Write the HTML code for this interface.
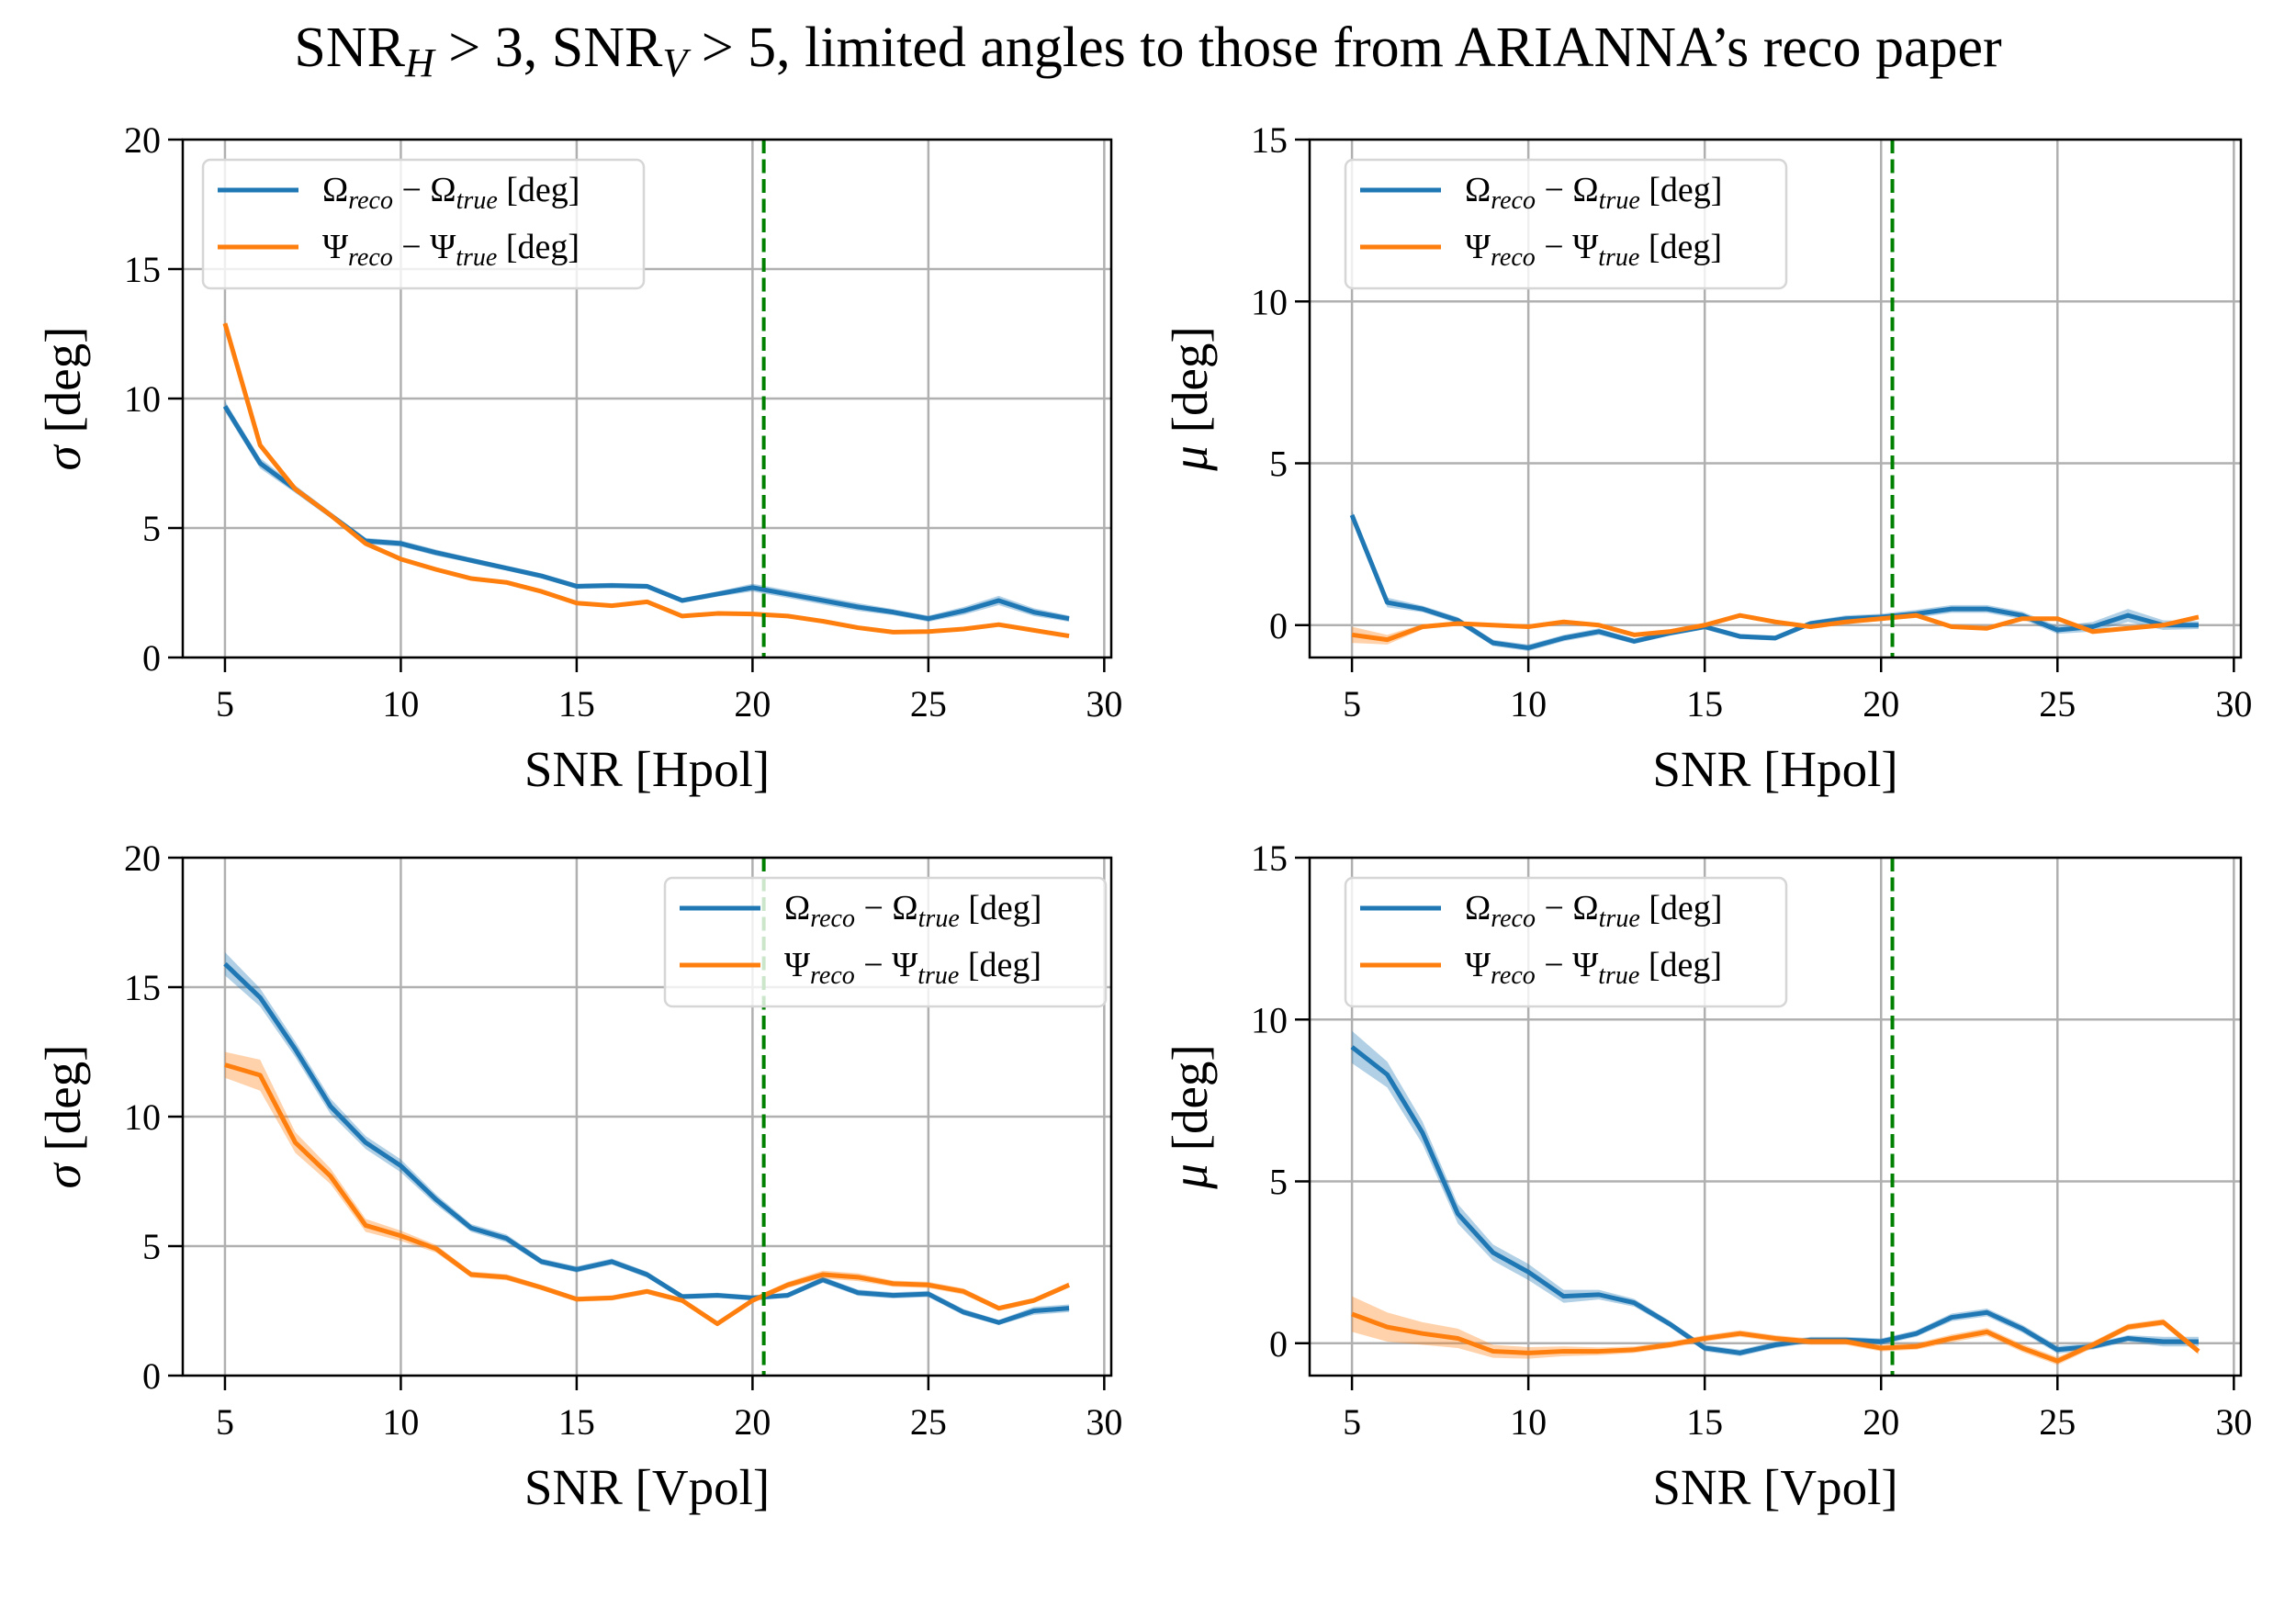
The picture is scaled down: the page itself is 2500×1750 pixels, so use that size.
<!DOCTYPE html>
<html><head><meta charset="utf-8"><style>
html,body{margin:0;padding:0;background:#fff}
svg{display:block;font-family:"Liberation Serif",serif}
</style></head><body>
<svg id="fig" width="2500" height="1750" viewBox="0 0 2500 1750" xmlns="http://www.w3.org/2000/svg">
<rect width="2500" height="1750" fill="#fff"/>
<text x="1250" y="72" font-size="62" text-anchor="middle">SNR<tspan font-style="italic" font-size="44" dy="11">H</tspan><tspan dy="-11"> &gt; 3, SNR</tspan><tspan font-style="italic" font-size="44" dy="11">V</tspan><tspan dy="-11"> &gt; 5, limited angles to those from ARIANNA’s reco paper</tspan></text>
</svg>
<script>
const snr = [5,6,7,8,9,10,11,12,13,14,15,16,17,18,19,20,21,22,23,24,25,26,27,28,29];
const xTicks = [5,10,15,20,25,30];
const cutLine = 20.32;
// top-left: sigma vs SNR Hpol
const sigH_omega = [9.7,7.5,6.5,5.5,4.5,4.4,4.05,3.75,3.45,3.15,2.75,2.78,2.75,2.2,2.45,2.7,2.45,2.2,1.95,1.75,1.5,1.8,2.2,1.75,1.5];
const sigH_omegaErr = [0.2,0.2,0.15,0.12,0.12,0.12,0.12,0.1,0.1,0.1,0.1,0.1,0.1,0.1,0.1,0.15,0.15,0.15,0.15,0.12,0.12,0.15,0.18,0.15,0.12];
const sigH_psi = [12.9,8.2,6.5,5.5,4.4,3.8,3.4,3.05,2.9,2.55,2.1,2.0,2.15,1.6,1.7,1.68,1.6,1.4,1.15,0.98,1.0,1.1,1.27,1.05,0.83];
const sigH_psiErr = [0.1,0.1,0.08,0.08,0.07,0.07,0.06,0.06,0.06,0.06,0.06,0.06,0.06,0.06,0.06,0.06,0.06,0.06,0.06,0.06,0.06,0.08,0.06,0.06,0.05];
// top-right: mu vs SNR Hpol
const muH_omega = [3.4,0.7,0.5,0.15,-0.55,-0.7,-0.4,-0.2,-0.5,-0.25,-0.05,-0.35,-0.4,0.05,0.2,0.25,0.35,0.5,0.5,0.3,-0.15,-0.05,0.3,0.0,0.0];
const muH_omegaErr = [0.15,0.15,0.1,0.1,0.1,0.1,0.1,0.1,0.08,0.08,0.08,0.08,0.08,0.08,0.1,0.1,0.12,0.12,0.12,0.12,0.12,0.15,0.2,0.15,0.12];
const muH_psi = [-0.3,-0.45,-0.05,0.05,0.0,-0.05,0.1,0.0,-0.3,-0.2,0.0,0.3,0.1,-0.05,0.1,0.2,0.3,-0.05,-0.1,0.2,0.2,-0.2,-0.1,0.0,0.25];
const muH_psiErr = [0.25,0.15,0.08,0.06,0.06,0.06,0.06,0.06,0.06,0.06,0.06,0.06,0.06,0.06,0.06,0.06,0.08,0.06,0.06,0.06,0.06,0.08,0.06,0.06,0.06];
// bottom-left: sigma vs SNR Vpol
const sigV_omega = [15.9,14.6,12.6,10.4,9.0,8.1,6.8,5.7,5.3,4.4,4.1,4.4,3.9,3.05,3.1,3.0,3.1,3.7,3.2,3.1,3.15,2.45,2.05,2.5,2.6];
const sigV_omegaErr = [0.45,0.35,0.3,0.3,0.25,0.25,0.2,0.15,0.15,0.12,0.12,0.12,0.12,0.1,0.1,0.1,0.1,0.12,0.12,0.12,0.12,0.12,0.1,0.15,0.15];
const sigV_psi = [12.0,11.6,9.0,7.7,5.8,5.4,4.9,3.9,3.8,3.4,2.95,3.0,3.25,2.9,2.0,2.9,3.5,3.9,3.8,3.55,3.5,3.25,2.6,2.9,3.5];
const sigV_psiErr = [0.5,0.6,0.4,0.3,0.25,0.2,0.15,0.12,0.12,0.1,0.1,0.1,0.1,0.1,0.1,0.1,0.12,0.15,0.15,0.12,0.12,0.12,0.1,0.1,0.1];
// bottom-right: mu vs SNR Vpol
const muV_omega = [9.15,8.3,6.5,4.0,2.8,2.2,1.45,1.5,1.25,0.6,-0.15,-0.3,-0.05,0.1,0.1,0.05,0.3,0.8,0.95,0.45,-0.2,-0.1,0.15,0.05,0.05];
const muV_omegaErr = [0.5,0.4,0.35,0.3,0.25,0.25,0.2,0.15,0.12,0.1,0.1,0.1,0.1,0.1,0.1,0.1,0.1,0.12,0.12,0.12,0.12,0.1,0.1,0.15,0.15];
const muV_psi = [0.9,0.5,0.3,0.15,-0.25,-0.3,-0.25,-0.25,-0.2,-0.05,0.15,0.3,0.15,0.05,0.05,-0.15,-0.1,0.15,0.35,-0.15,-0.55,-0.05,0.5,0.65,-0.25];
const muV_psiErr = [0.55,0.45,0.35,0.3,0.2,0.18,0.15,0.12,0.1,0.1,0.1,0.1,0.1,0.1,0.1,0.1,0.1,0.12,0.12,0.12,0.12,0.1,0.1,0.1,0.1];
const sigTicks = [0,5,10,15,20];
const muTicks = [0,5,10,15];

const NS='http://www.w3.org/2000/svg';
const svg=document.getElementById('fig');
function mk(tag,attrs,parent){const e=document.createElementNS(NS,tag);for(const k in attrs)e.setAttribute(k,attrs[k]);(parent||svg).appendChild(e);return e;}
const BLUE='#1f77b4',ORANGE='#ff7f0e';

function panel(id,L,T,R,B,ymin,ymax,yTicks,ylab,xlab,om,omE,ps,psE,legX){
  const g=mk('g',{});
  
  
  const xs=v=>L+(v-3.8)/(30.2-3.8)*(R-L);
  const ys=v=>B-(v-ymin)/(ymax-ymin)*(B-T);
  xTicks.forEach(t=>{const l=mk('line',{x1:xs(t),x2:xs(t),y1:T,y2:B,stroke:'#b0b0b0','stroke-width':2.5},g);
    });
  yTicks.forEach(t=>{const l=mk('line',{x1:L,x2:R,y1:ys(t),y2:ys(t),stroke:'#b0b0b0','stroke-width':2.5},g);
    });
  function series(vals,errs,color,name){
    let up=vals.map((v,i)=>xs(snr[i])+','+ys(v+errs[i]));
    let dn=vals.map((v,i)=>xs(snr[i])+','+ys(v-errs[i])).reverse();
    const b=mk('polygon',{points:up.concat(dn).join(' '),fill:color,'fill-opacity':0.35,stroke:'none'},g);
    
    const p=mk('polyline',{points:vals.map((v,i)=>xs(snr[i])+','+ys(v)).join(' '),fill:'none',stroke:color,'stroke-width':5,'stroke-linejoin':'round'},g);
    
  }
  series(om,omE,BLUE,'omega');
  series(ps,psE,ORANGE,'psi');
  const cl=mk('line',{x1:xs(cutLine),x2:xs(cutLine),y1:T,y2:B,stroke:'#008000','stroke-width':4,'stroke-dasharray':'15,6.5'},g);
  
  const fr=mk('rect',{x:L,y:T,width:R-L,height:B-T,fill:'none',stroke:'#000','stroke-width':2.5},g);
  
  xTicks.forEach(t=>{mk('line',{x1:xs(t),x2:xs(t),y1:B,y2:B+16,stroke:'#000','stroke-width':2.5},g);
    const tx=mk('text',{x:xs(t),y:B+64,'font-size':40,'text-anchor':'middle'},g);tx.textContent=t;
    });
  yTicks.forEach(t=>{mk('line',{x1:L-16,x2:L,y1:ys(t),y2:ys(t),stroke:'#000','stroke-width':2.5},g);
    const tx=mk('text',{x:L-24,y:ys(t)+14,'font-size':40,'text-anchor':'end'},g);tx.textContent=t;
    });
  const xl=mk('text',{x:(L+R)/2,y:B+140,'font-size':55,'text-anchor':'middle'},g);xl.textContent=xlab;
  
  const yl=mk('text',{x:0,y:0,'font-size':55,'text-anchor':'middle',transform:`translate(${L-112},${(T+B)/2}) rotate(-90)`},g);
  yl.innerHTML=`<tspan font-style="italic">${ylab}</tspan> [deg]`;
  
  const lg=mk('g',{},g);
  
  const lt=T+22;
  mk('rect',{x:legX,y:lt,width:480,height:140,rx:8,fill:'#fff','fill-opacity':0.8,stroke:'#d6d6d6','stroke-width':2.5},lg);
  [[BLUE,'Ω','omega'],[ORANGE,'Ψ','psi']].forEach((e,i)=>{
    const y=lt+33+i*62;
    const en=mk('g',{},lg);
    
    mk('line',{x1:legX+16,x2:legX+104,y1:y,y2:y,stroke:e[0],'stroke-width':5},en);
    const t=mk('text',{x:legX+130,y:y+12,'font-size':38},en);
    t.innerHTML=`${e[1]}<tspan font-style="italic" font-size="28" dy="8">reco</tspan><tspan dy="-8"> − ${e[1]}</tspan><tspan font-style="italic" font-size="28" dy="8">true</tspan><tspan dy="-8"> [deg]</tspan>`;
  });
}
panel('panel-sigma-hpol',199,152,1210,716,0,20,sigTicks,'σ','SNR [Hpol]',sigH_omega,sigH_omegaErr,sigH_psi,sigH_psiErr,221);
panel('panel-mu-hpol',1426,152,2440,716,-1,15,muTicks,'μ','SNR [Hpol]',muH_omega,muH_omegaErr,muH_psi,muH_psiErr,1465);
panel('panel-sigma-vpol',199,934,1210,1498,0,20,sigTicks,'σ','SNR [Vpol]',sigV_omega,sigV_omegaErr,sigV_psi,sigV_psiErr,724);
panel('panel-mu-vpol',1426,934,2440,1498,-1,15,muTicks,'μ','SNR [Vpol]',muV_omega,muV_omegaErr,muV_psi,muV_psiErr,1465);
</script>
</body></html>
